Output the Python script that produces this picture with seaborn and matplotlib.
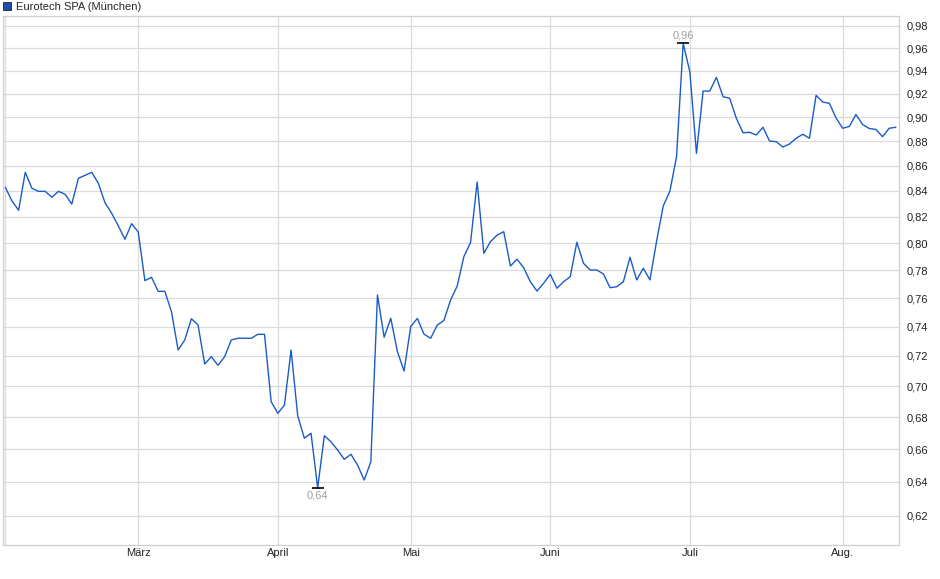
import matplotlib
matplotlib.use("Agg")
import matplotlib.pyplot as plt
import seaborn as sns
import pandas as pd
import numpy as np
from matplotlib.patches import Patch
from matplotlib.ticker import FixedLocator, NullLocator

# Handelstage Börse München (Feb - Aug 2025, ohne Feiertage)
holidays = ["2025-04-18", "2025-04-21", "2025-05-01"]
dates = pd.bdate_range("2025-02-03", "2025-08-13")
dates = dates[~dates.isin(pd.to_datetime(holidays))]

# Schlusskurse
prices = [
    0.8429, 0.8322, 0.8250, 0.8548, 0.8421, 0.8397, 0.8397, 0.8351, 0.8397, 0.8374,
    0.8298, 0.8500, 0.8524, 0.8548, 0.8460, 0.8308, 0.8227, 0.8130, 0.8029, 0.8147,
    0.8084, 0.7725, 0.7749, 0.7648, 0.7648, 0.7504, 0.7240, 0.7308, 0.7455, 0.7411,
    0.7146, 0.7195, 0.7137, 0.7195, 0.7308, 0.7320, 0.7320, 0.7320, 0.7347, 0.7347,
    0.6899, 0.6824, 0.6877, 0.7240, 0.6807, 0.6667, 0.6698, 0.6364, 0.6683, 0.6645,
    0.6594, 0.6537, 0.6568, 0.6502, 0.6412, 0.6522, 0.7622, 0.7327, 0.7458, 0.7229,
    0.7099, 0.7400, 0.7457, 0.7348, 0.7320, 0.7411, 0.7443, 0.7586, 0.7686, 0.7900,
    0.8004, 0.8471, 0.7925, 0.8011, 0.8061, 0.8086, 0.7831, 0.7881, 0.7819, 0.7717,
    0.7650, 0.7706, 0.7771, 0.7670, 0.7717, 0.7753, 0.8007, 0.7851, 0.7802, 0.7802,
    0.7773, 0.7674, 0.7681, 0.7717, 0.7895, 0.7730, 0.7815, 0.7730, 0.8016, 0.8283,
    0.8398, 0.8673, 0.9643, 0.9390, 0.8701, 0.9222, 0.9222, 0.9341, 0.9173, 0.9160,
    0.8990, 0.8870, 0.8873, 0.8851, 0.8915, 0.8801, 0.8796, 0.8752, 0.8777, 0.8824,
    0.8857, 0.8824, 0.9185, 0.9128, 0.9117, 0.8993, 0.8907, 0.8922, 0.9022, 0.8938,
    0.8905, 0.8897, 0.8837, 0.8907, 0.8915,
]

y_ticks = [0.62, 0.64, 0.66, 0.68, 0.70, 0.72, 0.74, 0.76, 0.78, 0.80,
           0.82, 0.84, 0.86, 0.88, 0.90, 0.92, 0.94, 0.96, 0.98]
month_names = {2: "", 3: "März", 4: "April", 5: "Mai", 6: "Juni", 7: "Juli", 8: "Aug."}
series_name = "Eurotech SPA (München)"

df = pd.DataFrame({"date": dates, "price": prices})
df["idx"] = np.arange(len(df))

sns.set_style("white")
plt.rcParams["font.family"] = ["Liberation Sans", "DejaVu Sans"]

line_color = "#1A5BC6"
grid_color = "#dadada"

fig = plt.figure(figsize=(9.4, 5.79), dpi=100)
ax = fig.add_axes([3 / 940, 1 - 545 / 579, (898.5 - 3) / 940, (545 - 16) / 579])

sns.lineplot(data=df, x="idx", y="price", ax=ax, color=line_color, linewidth=1.0)

ax.set_yscale("log")
ax.set_ylim(0.6034, 0.9892)
ax.set_xlim(-0.35, 134.4)

ax.yaxis.set_major_locator(FixedLocator(y_ticks))
ax.yaxis.set_minor_locator(NullLocator())
ax.set_yticklabels([f"{t:.2f}".replace(".", ",") for t in y_ticks])
ax.yaxis.tick_right()

# Monatsanfang = erster Handelstag des Monats
first_days = df.groupby(df["date"].dt.month)["idx"].min()
ax.xaxis.set_major_locator(FixedLocator(first_days.values))
ax.set_xticklabels([month_names[m] for m in first_days.index])

ax.tick_params(axis="both", length=0, labelsize=8, colors="#222222")
ax.tick_params(axis="y", pad=6)
ax.tick_params(axis="x", pad=2)
ax.grid(True, color=grid_color, linewidth=0.9)
ax.set_axisbelow(True)
ax.set_xlabel("")
ax.set_ylabel("")
for s in ax.spines.values():
    s.set_color("#cfcfcf")
    s.set_linewidth(0.9)

# Hoch / Tief markieren
hi = df["price"].idxmax()
lo = df["price"].idxmin()
for i, off, va in [(hi, 2, "bottom"), (lo, -2, "top")]:
    p = df.loc[i, "price"]
    ax.plot(df.loc[i, "idx"], p, marker="_", markersize=9, color="black", markeredgewidth=1.2)
    ax.annotate(f"{p:.2f}".replace(".", ","), (df.loc[i, "idx"], p),
                xytext=(0, off), textcoords="offset points",
                ha="center", va=va, fontsize=8, color="#a0a0a0")

fig.legend(handles=[Patch(facecolor="#1E4FA8", edgecolor="#222222", linewidth=0.6)],
           labels=[series_name], loc="upper left", bbox_to_anchor=(-0.004, 1.008),
           frameon=False, fontsize=8, handlelength=0.75, handleheight=0.75,
           handletextpad=0.4, borderaxespad=0.2)

fig.savefig("out.png", dpi=100)
